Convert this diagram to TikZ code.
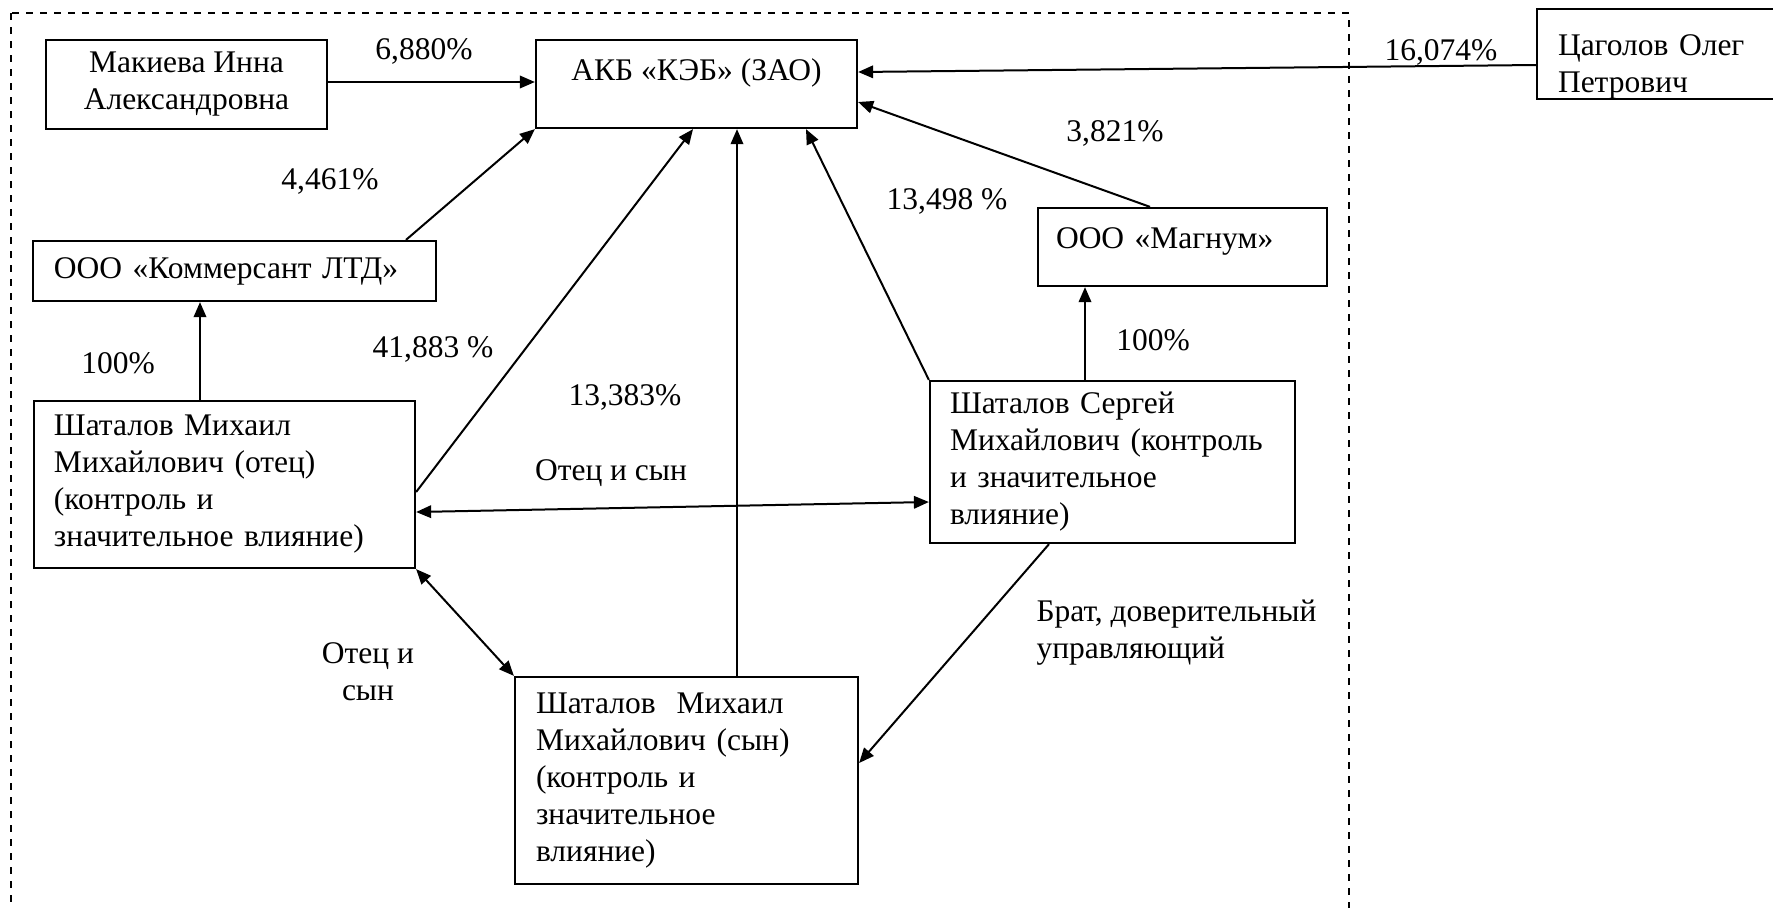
\documentclass[tikz,border=0pt]{standalone}
\usepackage{fontspec}
\setmainfont{Liberation Serif}
\usetikzlibrary{arrows.meta,calc}
\newcommand{\dfont}{\fontsize{12.6pt}{14.8pt}\selectfont}
\begin{document}
\begin{tikzpicture}[x=0.4pt,y=-0.4pt,
  box/.style={draw,line width=0.9pt,inner sep=0pt,font=\dfont},
  lbl/.style={inner sep=0pt,font=\dfont},
  conn/.style={line width=0.8pt},
  arr/.style={conn,-{Triangle[length=6pt,width=5pt]}},
  darr/.style={conn,{Triangle[length=6pt,width=5pt]}-{Triangle[length=6pt,width=5pt]}}]
\useasboundingbox (0,0) rectangle (1773,907);
\draw[dash pattern=on 2.8pt off 2.8pt, line width=0.7pt] (11,13) rectangle (1349,940);

% boxes
\node[box,minimum width=112.4pt,minimum height=35.6pt,align=center] (mak) at (186.5,84.5) {Макиева Инна\\Александровна};
\node[box,minimum width=128.4pt,minimum height=35.2pt,text height=9pt,text depth=11.6pt] (akb) at (696.5,84) {АКБ «КЭБ» (ЗАО)};
\node[box,minimum width=104.8pt,minimum height=35.2pt,text width=88pt,align=left,text height=18.5pt] (tsag) at (1668,54) {Цаголов Олег\\Петрович};
\node[box,minimum width=161.2pt,minimum height=24pt,text width=144.4pt,align=left] (kom) at (234.5,271) {ООО «Коммерсант ЛТД»};
\node[box,minimum width=115.6pt,minimum height=31.2pt,text width=101.2pt,align=left,text height=9pt,text depth=8pt] (mag) at (1182.5,247) {ООО «Магнум»};
\node[box,minimum width=152.4pt,minimum height=66.8pt,text width=136.4pt,align=left] (fat) at (224.5,484.5) {Шаталов Михаил\\Михайлович (отец)\\(контроль и\\значительное влияние)};
\node[box,minimum width=146pt,minimum height=64.8pt,text width=130pt,align=left] (ser) at (1112.5,462) {Шаталов Сергей\\Михайлович (контроль\\и значительное\\влияние)};
\node[box,minimum width=137.2pt,minimum height=82.8pt,text width=120.4pt,align=left] (son) at (686.5,780.5) {Шаталов\ \ Михаил\\Михайлович (сын)\\(контроль и\\значительное\\влияние)};

% labels
\node[lbl] (l1) at (424,51) {6,880\%};
\node[lbl] (l2) at (1441,52) {16,074\%};
\node[lbl] (l3) at (330,181) {4,461\%};
\node[lbl] (l4) at (1115,133) {3,821\%};
\node[lbl] (l5) at (947,201) {13,498 \%};
\node[lbl] (l6) at (118,363) {100\%};
\node[lbl] (l7) at (433,349) {41,883 \%};
\node[lbl] (l8) at (625,397) {13,383\%};
\node[lbl] (l9) at (1153,340) {100\%};
\node[lbl] (l10) at (611,473) {Отец и сын};
\node[lbl,align=center] (l11) at (368,672) {Отец и\\сын};
\node[lbl,align=left,anchor=west] (l12) at (1036,633) {Брат, доверительный\\управляющий};

% connectors
\draw[arr] (mak.east |- 0,82) -- (akb.west |- 0,82);
\draw[arr] (tsag.west |- 0,65) -- (akb.east |- 0,72);
\draw[arr] (kom.north -| 406,0) -- (akb.south west);
\draw[arr] (mag.north -| 1150,0) -- (akb.east |- 0,102);
\draw[arr] (fat.north -| 200,0) -- (kom.south -| 200,0);
\draw[arr] (fat.east |- 0,492) -- (akb.south -| 693,0);
\draw[arr] (son.north -| 737,0) -- (akb.south -| 737,0);
\draw[arr] (ser.north west) -- (akb.south -| 806,0);
\draw[arr] (ser.north -| 1085,0) -- (mag.south -| 1085,0);
\draw[darr] (fat.east |- 0,512) -- (ser.west |- 0,502);
\draw[darr] (fat.south east) -- (son.north west);
\draw[arr] (ser.south -| 1049,0) -- (son.east |- 0,763);
\end{tikzpicture}
\end{document}
